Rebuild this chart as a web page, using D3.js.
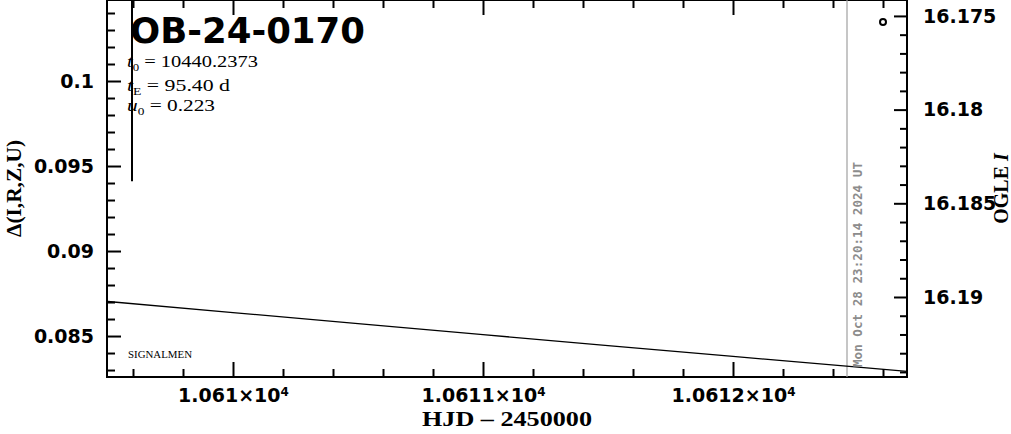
<!DOCTYPE html>
<html><head><meta charset="utf-8">
<script src="https://cdn.jsdelivr.net/npm/d3@7"></script>
<style>
body{margin:0;background:#fff;}
svg{display:block;}
</style></head>
<body><svg id="c" width="1011" height="434"></svg>
<script>
// ---- data ----
const xDomain = [10609.496, 10612.696];            // HJD - 2450000
const leftDomain = [0.08259, 0.104765];            // Δ(I,R,Z,U)
const rightDomain = [16.19427, 16.17415];          // OGLE I (inverted)
const xMajorTicks = [10610, 10611, 10612];
const xMajorLabels = ["1.061", "1.0611", "1.0612"];
const leftMajorTicks = [0.085, 0.09, 0.095, 0.1];
const leftMajorLabels = ["0.085", "0.09", "0.095", "0.1"];
const rightMajorTicks = [16.175, 16.18, 16.185, 16.19];
const rightMajorLabels = ["16.175", "16.18", "16.185", "16.19"];
const modelT = [10609.5, 10610.0, 10610.5, 10611.0, 10611.5, 10612.0, 10612.5, 10612.7];
const modelDelta = [0.08703, 0.08638, 0.08573, 0.08508, 0.08444, 0.08380, 0.08317, 0.08291];
const barT = [10609.596];
const barDelta = [[0.0941, 0.106]];
const pointT = [10612.6];
const pointMag = [16.17532];
const nowT = 10612.456;
const nowLabel = "Mon Oct 28 23:20:14 2024 UT";
const title = "OB-24-0170";
const params = [["t", "0", " = 10440.2373"], ["t", "E", " = 95.40 d"], ["u", "0", " = 0.223"]];
const paramWidths = [131, 103, 88];

// ---- layout ----
const L = 107, R = 907, T = 0, B = 377;
const svg = d3.select("#c");
const x = d3.scaleLinear().domain(xDomain).range([L, R]);
const yL = d3.scaleLinear().domain(leftDomain).range([B, T]);
const yR = d3.scaleLinear().domain(rightDomain).range([B, T]);

svg.append("defs").append("clipPath").attr("id", "clip")
  .append("rect").attr("x", L).attr("y", T).attr("width", R - L).attr("height", B - T);

const tickFont = "'DejaVu Sans', sans-serif";

function styleAxis(g) {
  g.select(".domain").remove();
  g.selectAll(".tick line").attr("stroke", "#000").attr("stroke-width", 2);
  g.selectAll(".tick text").attr("font-family", tickFont).attr("font-size", 19)
    .attr("font-weight", "bold").attr("fill", "#000");
}

// minor ticks
const xMinorVals = d3.range(Math.ceil(xDomain[0] * 5) / 5, xDomain[1], 0.2).filter(v => Math.abs(v - Math.round(v)) > 1e-6);
const lMinorVals = d3.range(Math.ceil(leftDomain[0] * 1000) / 1000, leftDomain[1], 0.001).filter(v => Math.abs(v * 200 - Math.round(v * 200)) > 1e-6);
const rMinorVals = d3.range(Math.ceil(rightDomain[1] * 1000) / 1000, rightDomain[0], 0.001).filter(v => Math.abs(v * 200 - Math.round(v * 200)) > 1e-6);

// bottom
svg.append("g").attr("transform", `translate(0,${B})`)
  .call(d3.axisBottom(x).tickValues(xMinorVals).tickSize(-8).tickFormat("")).call(styleAxis);
const gb = svg.append("g").attr("transform", `translate(0,${B})`)
  .call(d3.axisBottom(x).tickValues(xMajorTicks).tickSize(-15).tickPadding(12).tickFormat("")).call(styleAxis);
gb.selectAll(".tick text").each(function(d, i) {
  const t = d3.select(this);
  t.append("tspan").text(xMajorLabels[i] + "×10");
  t.append("tspan").attr("font-size", 12).attr("dy", "-0.55em").text("4");
});
// top
svg.append("g").attr("transform", `translate(0,${T})`)
  .call(d3.axisTop(x).tickValues(xMinorVals).tickSize(-8).tickFormat("")).call(styleAxis);
svg.append("g").attr("transform", `translate(0,${T})`)
  .call(d3.axisTop(x).tickValues(xMajorTicks).tickSize(-15).tickFormat("")).call(styleAxis);
// left
svg.append("g").attr("transform", `translate(${L},0)`)
  .call(d3.axisLeft(yL).tickValues(lMinorVals).tickSize(-8).tickFormat("")).call(styleAxis);
svg.append("g").attr("transform", `translate(${L},0)`)
  .call(d3.axisLeft(yL).tickValues(leftMajorTicks).tickSize(-14).tickPadding(13)
    .tickFormat((d, i) => leftMajorLabels[i])).call(styleAxis);
// right
svg.append("g").attr("transform", `translate(${R},0)`)
  .call(d3.axisRight(yR).tickValues(rMinorVals).tickSize(-7).tickFormat("")).call(styleAxis);
svg.append("g").attr("transform", `translate(${R},0)`)
  .call(d3.axisRight(yR).tickValues(rightMajorTicks).tickSize(-13).tickPadding(16)
    .tickFormat((d, i) => rightMajorLabels[i])).call(styleAxis);

// frame
svg.append("rect").attr("x", L).attr("y", T).attr("width", R - L).attr("height", B - T)
  .attr("fill", "none").attr("stroke", "#000").attr("stroke-width", 2);

const plot = svg.append("g").attr("clip-path", "url(#clip)");

// current-time line
plot.append("line").attr("x1", x(nowT)).attr("x2", x(nowT)).attr("y1", T).attr("y2", B)
  .attr("stroke", "#a0a0a0").attr("stroke-width", 1.2);
svg.append("text")
  .attr("transform", `translate(${x(nowT) + 15},${B - 10}) rotate(-90)`)
  .attr("font-family", "'DejaVu Sans Mono', monospace").attr("font-weight", "bold")
  .attr("font-size", 12).attr("fill", "#8c8c8c")
  .attr("textLength", 205).attr("lengthAdjust", "spacingAndGlyphs")
  .text(nowLabel);

// model curve
const line = d3.line().x(d => x(d[0])).y(d => yL(d[1]));
plot.append("path").datum(modelT.map((t, i) => [t, modelDelta[i]]))
  .attr("d", line).attr("fill", "none").attr("stroke", "#000").attr("stroke-width", 1.3);

// vertical bar
plot.selectAll("line.bar").data(barT).join("line").attr("class", "bar")
  .attr("x1", d => x(d)).attr("x2", d => x(d))
  .attr("y1", (d, i) => yL(barDelta[i][0])).attr("y2", (d, i) => yL(barDelta[i][1]))
  .attr("stroke", "#000").attr("stroke-width", 2);

// data point
plot.selectAll("circle.pt").data(pointT).join("circle").attr("class", "pt")
  .attr("cx", d => x(d)).attr("cy", (d, i) => yR(pointMag[i])).attr("r", 3)
  .attr("fill", "#fff").attr("stroke", "#000").attr("stroke-width", 2);

// title
svg.append("text").attr("x", 130).attr("y", 43)
  .attr("font-family", "'DejaVu Sans', sans-serif").attr("font-size", 35).attr("font-weight", "bold")
  .attr("textLength", 235).attr("lengthAdjust", "spacingAndGlyphs")
  .attr("fill", "#000").text(title);

// params
params.forEach((p, i) => {
  const t = svg.append("text").attr("x", 127).attr("y", [67, 91, 111][i])
    .attr("font-family", "'Liberation Serif', serif").attr("font-size", 16).attr("fill", "#000")
    .attr("textLength", paramWidths[i]).attr("lengthAdjust", "spacingAndGlyphs");
  t.append("tspan").attr("font-style", "italic").text(p[0]);
  t.append("tspan").attr("font-size", 10).attr("dy", 4).text(p[1]);
  t.append("tspan").attr("dy", -4).text(p[2]);
});

// SIGNALMEN
svg.append("text").attr("x", 128).attr("y", 358)
  .attr("font-family", "'Liberation Serif', serif").attr("font-size", 10)
  .attr("textLength", 64).attr("lengthAdjust", "spacingAndGlyphs").text("SIGNALMEN");

// axis titles
svg.append("text").attr("x", (L + R) / 2).attr("y", 426).attr("text-anchor", "middle")
  .attr("font-family", "'Liberation Serif', serif").attr("font-weight", "bold").attr("font-size", 21)
  .attr("textLength", 170).attr("lengthAdjust", "spacingAndGlyphs")
  .text("HJD – 2450000");
svg.append("text").attr("transform", `translate(21,${(T + B) / 2}) rotate(-90)`)
  .attr("text-anchor", "middle")
  .attr("font-family", "'Liberation Serif', serif").attr("font-weight", "bold").attr("font-size", 21)
  .attr("textLength", 97).attr("lengthAdjust", "spacingAndGlyphs")
  .text("Δ(I,R,Z,U)");
const rt = svg.append("text").attr("transform", `translate(1008,${(T + B) / 2}) rotate(-90)`)
  .attr("text-anchor", "middle")
  .attr("font-family", "'Liberation Serif', serif").attr("font-weight", "bold").attr("font-size", 20);
rt.append("tspan").text("OGLE ");
rt.append("tspan").attr("font-style", "italic").text("I");
</script>
</body></html>
